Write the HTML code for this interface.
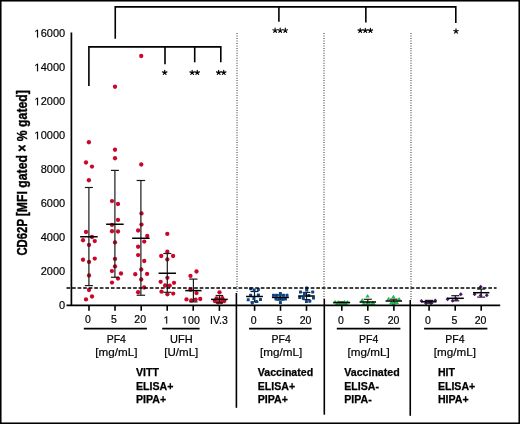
<!DOCTYPE html>
<html><head><meta charset="utf-8"><style>
html,body{margin:0;padding:0;background:#fff;}
body{width:520px;height:424px;position:relative;overflow:hidden;font-family:"Liberation Sans",sans-serif;}
</style></head><body>
<svg width="520" height="424" viewBox="0 0 520 424" style="position:absolute;left:0;top:0;will-change:transform">
<defs>
<g id="st" stroke="#000" stroke-width="1.15" stroke-linecap="round" fill="none"><path d="M0,0 L0.000,-2.350 M0,0 L2.235,-0.726 M0,0 L1.381,1.901 M0,0 L-1.381,1.901 M0,0 L-2.235,-0.726"/></g>
</defs>
<rect x="0.75" y="0.75" width="518.5" height="422.5" fill="#fff" stroke="#000" stroke-width="1.6"/>
<line x1="237.0" y1="33" x2="237.0" y2="293" stroke="#7c7c7c" stroke-width="1.6" stroke-dasharray="1 1.48"/>
<line x1="324.0" y1="33" x2="324.0" y2="299" stroke="#7c7c7c" stroke-width="1.6" stroke-dasharray="1 1.48"/>
<line x1="411.0" y1="33" x2="411.0" y2="300" stroke="#7c7c7c" stroke-width="1.6" stroke-dasharray="1 1.48"/>
<line x1="236.4" y1="293" x2="236.4" y2="407.8" stroke="#000" stroke-width="1.6"/>
<line x1="324.3" y1="299" x2="324.3" y2="414.7" stroke="#000" stroke-width="1.6"/>
<line x1="410.25" y1="300" x2="410.25" y2="415.8" stroke="#000" stroke-width="1.6"/>
<circle cx="88.9" cy="142.25" r="2.15" fill="#cb0629"/>
<circle cx="86" cy="162.5" r="2.15" fill="#cb0629"/>
<circle cx="92" cy="166.6" r="2.15" fill="#cb0629"/>
<circle cx="88.9" cy="180.25" r="2.15" fill="#cb0629"/>
<circle cx="86" cy="232" r="2.15" fill="#cb0629"/>
<circle cx="92" cy="237" r="2.15" fill="#cb0629"/>
<circle cx="83" cy="240.25" r="2.15" fill="#cb0629"/>
<circle cx="94.75" cy="241.1" r="2.15" fill="#cb0629"/>
<circle cx="89" cy="244.9" r="2.15" fill="#cb0629"/>
<circle cx="83" cy="259.75" r="2.15" fill="#cb0629"/>
<circle cx="94.75" cy="258.6" r="2.15" fill="#cb0629"/>
<circle cx="89" cy="262" r="2.15" fill="#cb0629"/>
<circle cx="89" cy="275.5" r="2.15" fill="#cb0629"/>
<circle cx="89" cy="290" r="2.15" fill="#cb0629"/>
<circle cx="92" cy="296.5" r="2.15" fill="#cb0629"/>
<circle cx="86" cy="299.4" r="2.15" fill="#cb0629"/>
<g stroke="#1a1a1a" stroke-width="1.2" fill="none"><line x1="88.9" y1="187.5" x2="88.9" y2="285.6"/><line x1="84.9" y1="187.5" x2="92.9" y2="187.5"/><line x1="84.9" y1="285.6" x2="92.9" y2="285.6"/></g>
<line x1="80.15" y1="236.75" x2="97.65" y2="236.75" stroke="#000" stroke-width="1.5"/>
<circle cx="115" cy="86.75" r="2.15" fill="#cb0629"/>
<circle cx="115" cy="149.75" r="2.15" fill="#cb0629"/>
<circle cx="115" cy="158.25" r="2.15" fill="#cb0629"/>
<circle cx="112" cy="201.1" r="2.15" fill="#cb0629"/>
<circle cx="118" cy="204" r="2.15" fill="#cb0629"/>
<circle cx="118" cy="219.9" r="2.15" fill="#cb0629"/>
<circle cx="112" cy="224.9" r="2.15" fill="#cb0629"/>
<circle cx="112" cy="231.25" r="2.15" fill="#cb0629"/>
<circle cx="118" cy="231.5" r="2.15" fill="#cb0629"/>
<circle cx="115" cy="242.4" r="2.15" fill="#cb0629"/>
<circle cx="115" cy="258.9" r="2.15" fill="#cb0629"/>
<circle cx="115" cy="266.4" r="2.15" fill="#cb0629"/>
<circle cx="111.9" cy="271.1" r="2.15" fill="#cb0629"/>
<circle cx="121" cy="273.5" r="2.15" fill="#cb0629"/>
<circle cx="118" cy="278.6" r="2.15" fill="#cb0629"/>
<circle cx="112" cy="282.6" r="2.15" fill="#cb0629"/>
<g stroke="#1a1a1a" stroke-width="1.2" fill="none"><line x1="114.9" y1="170.4" x2="114.9" y2="277.25"/><line x1="110.9" y1="170.4" x2="118.9" y2="170.4"/><line x1="110.9" y1="277.25" x2="118.9" y2="277.25"/></g>
<line x1="106.15" y1="224.25" x2="123.65" y2="224.25" stroke="#000" stroke-width="1.5"/>
<circle cx="141.25" cy="56" r="2.15" fill="#cb0629"/>
<circle cx="141.25" cy="164.5" r="2.15" fill="#cb0629"/>
<circle cx="141.5" cy="213.4" r="2.15" fill="#cb0629"/>
<circle cx="141.5" cy="224.6" r="2.15" fill="#cb0629"/>
<circle cx="138.1" cy="230.5" r="2.15" fill="#cb0629"/>
<circle cx="147.25" cy="236" r="2.15" fill="#cb0629"/>
<circle cx="144.25" cy="241.6" r="2.15" fill="#cb0629"/>
<circle cx="138.1" cy="246.75" r="2.15" fill="#cb0629"/>
<circle cx="138.1" cy="255.1" r="2.15" fill="#cb0629"/>
<circle cx="144.25" cy="261" r="2.15" fill="#cb0629"/>
<circle cx="141.25" cy="269.5" r="2.15" fill="#cb0629"/>
<circle cx="135.25" cy="274.25" r="2.15" fill="#cb0629"/>
<circle cx="147.1" cy="273.9" r="2.15" fill="#cb0629"/>
<circle cx="141.25" cy="279.5" r="2.15" fill="#cb0629"/>
<circle cx="144.1" cy="287.5" r="2.15" fill="#cb0629"/>
<circle cx="138.1" cy="292.25" r="2.15" fill="#cb0629"/>
<g stroke="#1a1a1a" stroke-width="1.2" fill="none"><line x1="140.9" y1="180.5" x2="140.9" y2="295.25"/><line x1="136.65" y1="180.5" x2="145.15" y2="180.5"/><line x1="136.65" y1="295.25" x2="145.15" y2="295.25"/></g>
<line x1="132.15" y1="238.25" x2="149.65" y2="238.25" stroke="#000" stroke-width="1.5"/>
<circle cx="167.3" cy="233.9" r="2.15" fill="#cb0629"/>
<circle cx="167.3" cy="251.75" r="2.15" fill="#cb0629"/>
<circle cx="161.25" cy="256" r="2.15" fill="#cb0629"/>
<circle cx="173.1" cy="256" r="2.15" fill="#cb0629"/>
<circle cx="167.3" cy="259.5" r="2.15" fill="#cb0629"/>
<circle cx="167.4" cy="277.8" r="2.15" fill="#cb0629"/>
<circle cx="160.65" cy="281.8" r="2.15" fill="#cb0629"/>
<circle cx="174" cy="282.8" r="2.15" fill="#cb0629"/>
<circle cx="165.1" cy="285.5" r="2.15" fill="#cb0629"/>
<circle cx="169.7" cy="285.7" r="2.15" fill="#cb0629"/>
<circle cx="161.5" cy="291.7" r="2.15" fill="#cb0629"/>
<circle cx="167.4" cy="294.35" r="2.15" fill="#cb0629"/>
<circle cx="173.2" cy="293.6" r="2.15" fill="#cb0629"/>
<g stroke="#1a1a1a" stroke-width="1.2" fill="none"><line x1="167.3" y1="253.5" x2="167.3" y2="292.3"/><line x1="163.3" y1="253.5" x2="171.3" y2="253.5"/><line x1="163.3" y1="292.3" x2="171.3" y2="292.3"/></g>
<line x1="158.55" y1="273.25" x2="176.05" y2="273.25" stroke="#000" stroke-width="1.5"/>
<circle cx="196.5" cy="271.5" r="2.15" fill="#cb0629"/>
<circle cx="190.5" cy="275.9" r="2.15" fill="#cb0629"/>
<circle cx="190.5" cy="289.75" r="2.15" fill="#cb0629"/>
<circle cx="196.5" cy="293.1" r="2.15" fill="#cb0629"/>
<circle cx="186.5" cy="299.4" r="2.15" fill="#cb0629"/>
<circle cx="191.25" cy="300.4" r="2.15" fill="#cb0629"/>
<circle cx="195.6" cy="299.6" r="2.15" fill="#cb0629"/>
<circle cx="200.25" cy="299" r="2.15" fill="#cb0629"/>
<g stroke="#1a1a1a" stroke-width="1.2" fill="none"><line x1="193.4" y1="279.1" x2="193.4" y2="301.9"/><line x1="189.25" y1="279.1" x2="197.55" y2="279.1"/><line x1="189.25" y1="301.9" x2="197.55" y2="301.9"/></g>
<line x1="185.25" y1="290.6" x2="201.55" y2="290.6" stroke="#000" stroke-width="1.5"/>
<circle cx="219.5" cy="292.3" r="2.15" fill="#cb0629"/>
<circle cx="216.5" cy="298.4" r="2.15" fill="#cb0629"/>
<circle cx="222.3" cy="298.2" r="2.15" fill="#cb0629"/>
<circle cx="214.8" cy="301.1" r="2.15" fill="#cb0629"/>
<circle cx="224.3" cy="301.1" r="2.15" fill="#cb0629"/>
<circle cx="218" cy="302.4" r="2.15" fill="#cb0629"/>
<circle cx="221.2" cy="302.2" r="2.15" fill="#cb0629"/>
<g stroke="#1a1a1a" stroke-width="1.2" fill="none"><line x1="219.4" y1="295.5" x2="219.4" y2="302.8"/><line x1="215.65" y1="295.5" x2="223.15" y2="295.5"/><line x1="215.65" y1="302.8" x2="223.15" y2="302.8"/></g>
<line x1="211.05" y1="299.4" x2="227.75" y2="299.4" stroke="#000" stroke-width="1.5"/>
<g stroke="#1a1a1a" stroke-width="1.2" fill="none"><line x1="254.5" y1="291.5" x2="254.5" y2="301.9"/><line x1="250.5" y1="291.5" x2="258.5" y2="291.5"/><line x1="250.5" y1="301.9" x2="258.5" y2="301.9"/></g>
<rect x="249.10" y="287.20" width="3.0" height="3.0" rx="0.6" fill="#0a4484"/>
<rect x="252.60" y="288.60" width="3.0" height="3.0" rx="0.6" fill="#0a4484"/>
<rect x="256.90" y="287.90" width="3.0" height="3.0" rx="0.6" fill="#0a4484"/>
<rect x="249.10" y="293.80" width="3.0" height="3.0" rx="0.6" fill="#0a4484"/>
<rect x="256.90" y="293.60" width="3.0" height="3.0" rx="0.6" fill="#0a4484"/>
<rect x="246.70" y="298.30" width="3.0" height="3.0" rx="0.6" fill="#0a4484"/>
<rect x="252.40" y="297.10" width="3.0" height="3.0" rx="0.6" fill="#0a4484"/>
<rect x="259.00" y="298.10" width="3.0" height="3.0" rx="0.6" fill="#0a4484"/>
<rect x="255.00" y="300.00" width="3.0" height="3.0" rx="0.6" fill="#0a4484"/>
<rect x="250.75" y="301.40" width="3.0" height="3.0" rx="0.6" fill="#0a4484"/>
<line x1="246.1" y1="296.5" x2="262.9" y2="296.5" stroke="#000" stroke-width="1.5"/>
<g stroke="#1a1a1a" stroke-width="1.2" fill="none"><line x1="280.4" y1="295.0" x2="280.4" y2="300.0"/><line x1="276.4" y1="295.0" x2="284.4" y2="295.0"/><line x1="276.4" y1="300.0" x2="284.4" y2="300.0"/></g>
<rect x="278.90" y="291.90" width="3.0" height="3.0" rx="0.6" fill="#0a4484"/>
<rect x="272.00" y="293.80" width="3.0" height="3.0" rx="0.6" fill="#0a4484"/>
<rect x="275.00" y="293.80" width="3.0" height="3.0" rx="0.6" fill="#0a4484"/>
<rect x="278.50" y="293.80" width="3.0" height="3.0" rx="0.6" fill="#0a4484"/>
<rect x="282.00" y="293.80" width="3.0" height="3.0" rx="0.6" fill="#0a4484"/>
<rect x="285.50" y="293.80" width="3.0" height="3.0" rx="0.6" fill="#0a4484"/>
<rect x="274.50" y="297.60" width="3.0" height="3.0" rx="0.6" fill="#0a4484"/>
<rect x="277.50" y="297.60" width="3.0" height="3.0" rx="0.6" fill="#0a4484"/>
<rect x="281.00" y="297.60" width="3.0" height="3.0" rx="0.6" fill="#0a4484"/>
<rect x="284.00" y="297.60" width="3.0" height="3.0" rx="0.6" fill="#0a4484"/>
<rect x="278.90" y="301.10" width="3.0" height="3.0" rx="0.6" fill="#0a4484"/>
<line x1="271.9" y1="297.4" x2="288.9" y2="297.4" stroke="#000" stroke-width="1.5"/>
<g stroke="#1a1a1a" stroke-width="1.2" fill="none"><line x1="306.5" y1="292.4" x2="306.5" y2="299.6"/><line x1="302.7" y1="292.4" x2="310.3" y2="292.4"/><line x1="302.7" y1="299.6" x2="310.3" y2="299.6"/></g>
<rect x="305.20" y="286.50" width="3.0" height="3.0" rx="0.6" fill="#0a4484"/>
<rect x="305.20" y="288.50" width="3.0" height="3.0" rx="0.6" fill="#0a4484"/>
<rect x="299.00" y="290.60" width="3.0" height="3.0" rx="0.6" fill="#0a4484"/>
<rect x="311.20" y="290.60" width="3.0" height="3.0" rx="0.6" fill="#0a4484"/>
<rect x="302.90" y="292.20" width="3.0" height="3.0" rx="0.6" fill="#0a4484"/>
<rect x="307.30" y="294.00" width="3.0" height="3.0" rx="0.6" fill="#0a4484"/>
<rect x="298.20" y="296.10" width="3.0" height="3.0" rx="0.6" fill="#0a4484"/>
<rect x="301.80" y="296.80" width="3.0" height="3.0" rx="0.6" fill="#0a4484"/>
<rect x="312.00" y="296.60" width="3.0" height="3.0" rx="0.6" fill="#0a4484"/>
<rect x="304.95" y="300.00" width="3.0" height="3.0" rx="0.6" fill="#0a4484"/>
<rect x="308.30" y="299.70" width="3.0" height="3.0" rx="0.6" fill="#0a4484"/>
<line x1="298.2" y1="296.0" x2="314.8" y2="296.0" stroke="#000" stroke-width="1.5"/>
<g stroke="#1a1a1a" stroke-width="1.2" fill="none"><line x1="341.7" y1="302.0" x2="341.7" y2="303.0"/><line x1="338.2" y1="302.0" x2="345.2" y2="302.0"/><line x1="338.2" y1="303.0" x2="345.2" y2="303.0"/></g>
<path d="M335.10,300.00 L337.30,303.60 L332.90,303.60Z" fill="#1cbf45"/>
<path d="M338.30,300.00 L340.50,303.60 L336.10,303.60Z" fill="#1cbf45"/>
<path d="M344.50,300.00 L346.70,303.60 L342.30,303.60Z" fill="#1cbf45"/>
<path d="M347.50,300.00 L349.70,303.60 L345.30,303.60Z" fill="#1cbf45"/>
<path d="M337.00,301.50 L339.20,305.10 L334.80,305.10Z" fill="#1cbf45"/>
<path d="M340.50,301.70 L342.70,305.30 L338.30,305.30Z" fill="#1cbf45"/>
<path d="M343.00,301.70 L345.20,305.30 L340.80,305.30Z" fill="#1cbf45"/>
<path d="M346.00,301.50 L348.20,305.10 L343.80,305.10Z" fill="#1cbf45"/>
<line x1="333.3" y1="302.5" x2="350.09999999999997" y2="302.5" stroke="#000" stroke-width="1.5"/>
<g stroke="#1a1a1a" stroke-width="1.2" fill="none"><line x1="367.8" y1="299.3" x2="367.8" y2="304.5"/><line x1="363.8" y1="299.3" x2="371.8" y2="299.3"/><line x1="363.8" y1="304.5" x2="371.8" y2="304.5"/></g>
<path d="M367.60,294.00 L369.80,297.60 L365.40,297.60Z" fill="#1cbf45"/>
<path d="M362.20,298.00 L364.40,301.60 L360.00,301.60Z" fill="#1cbf45"/>
<path d="M372.80,300.40 L375.00,304.00 L370.60,304.00Z" fill="#1cbf45"/>
<path d="M363.70,301.50 L365.90,305.10 L361.50,305.10Z" fill="#1cbf45"/>
<path d="M366.50,301.70 L368.70,305.30 L364.30,305.30Z" fill="#1cbf45"/>
<path d="M369.50,301.70 L371.70,305.30 L367.30,305.30Z" fill="#1cbf45"/>
<path d="M373.50,301.50 L375.70,305.10 L371.30,305.10Z" fill="#1cbf45"/>
<line x1="359.6" y1="302.0" x2="376.0" y2="302.0" stroke="#000" stroke-width="1.5"/>
<g stroke="#1a1a1a" stroke-width="1.2" fill="none"><line x1="393.8" y1="299.2" x2="393.8" y2="303.0"/><line x1="390.05" y1="299.2" x2="397.55" y2="299.2"/><line x1="390.05" y1="303.0" x2="397.55" y2="303.0"/></g>
<path d="M393.40,294.70 L395.60,298.30 L391.20,298.30Z" fill="#1cbf45"/>
<path d="M388.60,296.70 L390.80,300.30 L386.40,300.30Z" fill="#1cbf45"/>
<path d="M399.10,297.00 L401.30,300.60 L396.90,300.60Z" fill="#1cbf45"/>
<path d="M391.30,300.60 L393.50,304.20 L389.10,304.20Z" fill="#1cbf45"/>
<path d="M396.90,300.40 L399.10,304.00 L394.70,304.00Z" fill="#1cbf45"/>
<path d="M393.50,301.40 L395.70,305.00 L391.30,305.00Z" fill="#1cbf45"/>
<line x1="385.55" y1="301.0" x2="402.05" y2="301.0" stroke="#000" stroke-width="1.5"/>
<g stroke="#1a1a1a" stroke-width="1.2" fill="none"><line x1="429.0" y1="300.4" x2="429.0" y2="303.2"/><line x1="424.75" y1="300.4" x2="433.25" y2="300.4"/><line x1="424.75" y1="303.2" x2="433.25" y2="303.2"/></g>
<path d="M421.50,299.05 L423.45,301.00 L421.50,302.95 L419.55,301.00Z" fill="#4a1470"/>
<path d="M435.30,298.45 L437.25,300.40 L435.30,302.35 L433.35,300.40Z" fill="#4a1470"/>
<path d="M426.10,301.25 L428.05,303.20 L426.10,305.15 L424.15,303.20Z" fill="#4a1470"/>
<path d="M431.00,301.25 L432.95,303.20 L431.00,305.15 L429.05,303.20Z" fill="#4a1470"/>
<line x1="421.5" y1="301.8" x2="436.5" y2="301.8" stroke="#000" stroke-width="1.5"/>
<g stroke="#1a1a1a" stroke-width="1.2" fill="none"><line x1="455.3" y1="295.7" x2="455.3" y2="300.8"/><line x1="451.3" y1="295.7" x2="459.3" y2="295.7"/><line x1="451.3" y1="300.8" x2="459.3" y2="300.8"/></g>
<path d="M460.80,292.25 L462.75,294.20 L460.80,296.15 L458.85,294.20Z" fill="#4a1470"/>
<path d="M447.60,297.25 L449.55,299.20 L447.60,301.15 L445.65,299.20Z" fill="#4a1470"/>
<path d="M452.70,298.85 L454.65,300.80 L452.70,302.75 L450.75,300.80Z" fill="#4a1470"/>
<path d="M456.50,297.25 L458.45,299.20 L456.50,301.15 L454.55,299.20Z" fill="#4a1470"/>
<line x1="446.8" y1="298.3" x2="463.8" y2="298.3" stroke="#000" stroke-width="1.5"/>
<g stroke="#1a1a1a" stroke-width="1.2" fill="none"><line x1="481.2" y1="289.1" x2="481.2" y2="297.1"/><line x1="477.2" y1="289.1" x2="485.2" y2="289.1"/><line x1="477.2" y1="297.1" x2="485.2" y2="297.1"/></g>
<path d="M480.70,284.85 L482.65,286.80 L480.70,288.75 L478.75,286.80Z" fill="#4a1470"/>
<path d="M474.60,292.25 L476.55,294.20 L474.60,296.15 L472.65,294.20Z" fill="#4a1470"/>
<path d="M480.60,293.45 L482.55,295.40 L480.60,297.35 L478.65,295.40Z" fill="#4a1470"/>
<path d="M486.80,293.25 L488.75,295.20 L486.80,297.15 L484.85,295.20Z" fill="#4a1470"/>
<line x1="473.05" y1="292.7" x2="489.34999999999997" y2="292.7" stroke="#000" stroke-width="1.5"/>
<line x1="66.5" y1="288" x2="496.6" y2="288" stroke="#000" stroke-width="1.6" stroke-dasharray="3.69 1.86"/>
<line x1="71.4" y1="32.6" x2="71.4" y2="305.3" stroke="#000" stroke-width="1.7"/>
<line x1="66.5" y1="305.3" x2="500.2" y2="305.3" stroke="#000" stroke-width="1.7"/>
<line x1="89" y1="305" x2="89" y2="310.8" stroke="#000" stroke-width="1.6"/>
<line x1="115" y1="305" x2="115" y2="310.8" stroke="#000" stroke-width="1.6"/>
<line x1="141.2" y1="305" x2="141.2" y2="310.8" stroke="#000" stroke-width="1.6"/>
<line x1="167.2" y1="305" x2="167.2" y2="310.8" stroke="#000" stroke-width="1.6"/>
<line x1="193.2" y1="305" x2="193.2" y2="310.8" stroke="#000" stroke-width="1.6"/>
<line x1="219.4" y1="305" x2="219.4" y2="310.8" stroke="#000" stroke-width="1.6"/>
<line x1="254.6" y1="305" x2="254.6" y2="310.8" stroke="#000" stroke-width="1.6"/>
<line x1="280.5" y1="305" x2="280.5" y2="310.8" stroke="#000" stroke-width="1.6"/>
<line x1="306.5" y1="305" x2="306.5" y2="310.8" stroke="#000" stroke-width="1.6"/>
<line x1="341.8" y1="305" x2="341.8" y2="310.8" stroke="#000" stroke-width="1.6"/>
<line x1="367.8" y1="305" x2="367.8" y2="310.8" stroke="#000" stroke-width="1.6"/>
<line x1="393.9" y1="305" x2="393.9" y2="310.8" stroke="#000" stroke-width="1.6"/>
<line x1="429.1" y1="305" x2="429.1" y2="310.8" stroke="#000" stroke-width="1.6"/>
<line x1="455.2" y1="305" x2="455.2" y2="310.8" stroke="#000" stroke-width="1.6"/>
<line x1="481.2" y1="305" x2="481.2" y2="310.8" stroke="#000" stroke-width="1.6"/>
<g font-family="Liberation Sans, sans-serif" font-size="11" fill="#000" stroke="#000" stroke-width="0.18" text-anchor="end">
<text x="65.2" y="308.90">0</text>
<text x="65.2" y="274.96">2000</text>
<text x="65.2" y="241.02">4000</text>
<text x="65.2" y="207.09">6000</text>
<text x="65.2" y="173.15">8000</text>
<text x="65.2" y="139.21"> 0000</text>
<path d="M37.055,139.210 L37.055,132.566 L35.347,133.785 L35.347,132.872 L37.136,131.642 L38.028,131.642 L38.028,139.210Z"/>
<text x="65.2" y="105.27"> 2000</text>
<path d="M37.055,105.272 L37.055,98.628 L35.347,99.847 L35.347,98.934 L37.136,97.704 L38.028,97.704 L38.028,105.272Z"/>
<text x="65.2" y="71.33"> 4000</text>
<path d="M37.055,71.334 L37.055,64.690 L35.347,65.909 L35.347,64.996 L37.136,63.766 L38.028,63.766 L38.028,71.334Z"/>
<text x="65.2" y="37.40"> 6000</text>
<path d="M37.055,37.396 L37.055,30.752 L35.347,31.971 L35.347,31.058 L37.136,29.828 L38.028,29.828 L38.028,37.396Z"/>
</g>
<g font-family="Liberation Sans, sans-serif" font-size="10.5" fill="#000" stroke="#000" stroke-width="0.18" text-anchor="middle">
<text x="88" y="322.60">0</text>
<text x="114" y="322.60">5</text>
<text x="140.2" y="322.60">20</text>
<text x="166.8" y="323.60"> </text>
<path d="M166.213,323.600 L166.213,317.258 L164.583,318.422 L164.583,317.550 L166.290,316.376 L167.141,316.376 L167.141,323.600Z"/>
<text x="191" y="323.60"> 00</text>
<path d="M184.573,323.600 L184.573,317.258 L182.943,318.422 L182.943,317.550 L184.650,316.376 L185.501,316.376 L185.501,323.600Z"/>
<text x="218.9" y="323.60">IV.3</text>
<text x="253.6" y="323.60">0</text>
<text x="279.6" y="323.60">5</text>
<text x="305.6" y="323.60">20</text>
<text x="341" y="323.60">0</text>
<text x="367" y="323.60">5</text>
<text x="393.5" y="323.60">20</text>
<text x="427.8" y="323.60">0</text>
<text x="454.5" y="323.60">5</text>
<text x="480.5" y="323.60">20</text>
</g>
<line x1="83.8" y1="328.6" x2="146.9" y2="328.6" stroke="#000" stroke-width="1.6"/>
<line x1="162.2" y1="328.6" x2="199.6" y2="328.6" stroke="#000" stroke-width="1.6"/>
<line x1="249.1" y1="328.6" x2="311.7" y2="328.6" stroke="#000" stroke-width="1.6"/>
<line x1="336.8" y1="328.6" x2="400.4" y2="328.6" stroke="#000" stroke-width="1.6"/>
<line x1="424.1" y1="328.6" x2="487.4" y2="328.6" stroke="#000" stroke-width="1.6"/>
<g font-family="Liberation Sans, sans-serif" font-size="10.5" fill="#000" stroke="#000" stroke-width="0.18" text-anchor="middle">
<text x="116.3" y="343.3">PF4</text><text x="116.3" y="356.4" textLength="42.2" lengthAdjust="spacingAndGlyphs">[mg/mL]</text>
<text x="181.3" y="343.3" textLength="22.6" lengthAdjust="spacingAndGlyphs">UFH</text><text x="181.3" y="356.4" textLength="34.0" lengthAdjust="spacingAndGlyphs">[U/mL]</text>
<text x="281.2" y="343.3">PF4</text><text x="281.2" y="356.4" textLength="42.2" lengthAdjust="spacingAndGlyphs">[mg/mL]</text>
<text x="368.7" y="343.3">PF4</text><text x="368.7" y="356.4" textLength="42.2" lengthAdjust="spacingAndGlyphs">[mg/mL]</text>
<text x="454.9" y="343.3">PF4</text><text x="454.9" y="356.4" textLength="42.2" lengthAdjust="spacingAndGlyphs">[mg/mL]</text>
</g>
<g font-family="Liberation Sans, sans-serif" font-size="10.6" font-weight="bold" fill="#000" stroke="#000" stroke-width="0.25">
<text x="136" y="376.30">VITT</text>
<text x="136" y="389.85">ELISA+</text>
<text x="136" y="403.40">PIPA+</text>
<text x="257.8" y="376.30">Vaccinated</text>
<text x="257.8" y="389.85">ELISA+</text>
<text x="257.8" y="403.40">PIPA+</text>
<text x="344.3" y="376.30">Vaccinated</text>
<text x="344.3" y="389.85">ELISA-</text>
<text x="344.3" y="403.40">PIPA-</text>
<text x="437.9" y="376.30">HIT</text>
<text x="437.9" y="389.85">ELISA+</text>
<text x="437.9" y="403.40">HIPA+</text>
</g>
<text transform="translate(27.35,255.6) rotate(-90)" font-family="Liberation Sans, sans-serif" font-size="15.1" font-weight="bold" fill="#000" stroke="#000" stroke-width="0.4" lengthAdjust="spacingAndGlyphs" textLength="36.6">CD62P</text>
<text transform="translate(27.35,216.2) rotate(-90)" font-family="Liberation Sans, sans-serif" font-size="15.1" font-weight="bold" fill="#000" stroke="#000" stroke-width="0.4" lengthAdjust="spacingAndGlyphs" textLength="126.0">[MFI gated × % gated]</text>
<g stroke="#000" stroke-width="1.6" fill="none" stroke-linecap="butt">
<polyline points="115.25,38.8 115.25,6.9 455.8,6.9 455.8,23"/>
<line x1="278.9" y1="6.9" x2="278.9" y2="21.8"/>
<line x1="365.85" y1="6.9" x2="365.85" y2="22.4"/>
<polyline points="88.9,86 88.9,46.9 220.8,46.9 220.8,62.3"/>
<line x1="165" y1="46.9" x2="165" y2="64.3"/>
<line x1="194.7" y1="46.9" x2="194.7" y2="62.3"/>
</g>
<use href="#st" x="164.70" y="72.6"/>
<use href="#st" x="192.15" y="72.6"/>
<use href="#st" x="197.25" y="72.6"/>
<use href="#st" x="218.65" y="72.6"/>
<use href="#st" x="223.75" y="72.6"/>
<use href="#st" x="275.10" y="30.5"/>
<use href="#st" x="280.20" y="30.5"/>
<use href="#st" x="285.30" y="30.5"/>
<use href="#st" x="360.20" y="30.6"/>
<use href="#st" x="365.30" y="30.6"/>
<use href="#st" x="370.40" y="30.6"/>
<use href="#st" x="456.00" y="31.2"/>
</svg>
</body></html>
